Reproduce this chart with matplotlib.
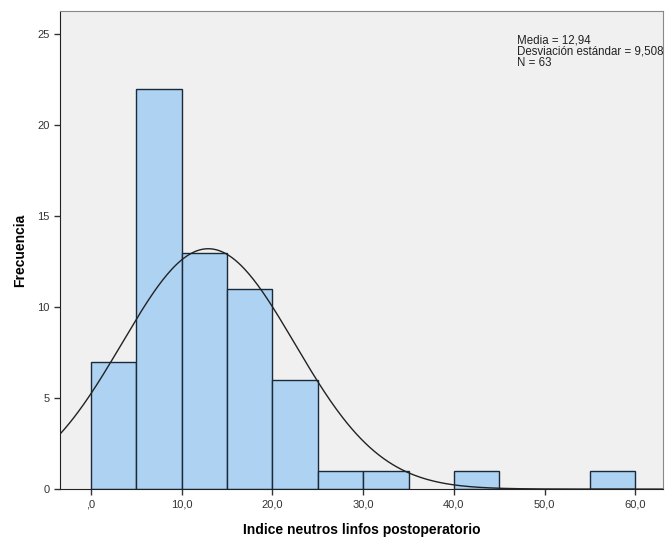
import numpy as np
import matplotlib
matplotlib.use("Agg")
import matplotlib.pyplot as plt

# datos del histograma (intervalos de 5)
bordes = [0, 5, 10, 15, 20, 25, 30, 35, 40, 45, 50, 55, 60]
frecuencias = [7, 22, 13, 11, 6, 1, 1, 0, 1, 0, 0, 1]
media = 12.94
desviacion = 9.508
n = 63
xticks = [0, 10, 20, 30, 40, 50, 60]
xtick_labels = [",0", "10,0", "20,0", "30,0", "40,0", "50,0", "60,0"]
yticks = [0, 5, 10, 15, 20, 25]

plt.rcParams['font.family'] = ['Liberation Sans', 'DejaVu Sans']

fig = plt.figure(figsize=(6.66, 5.41), dpi=100)
ax = fig.add_axes([0.09, 0.096, 0.905, 0.884])
ax.set_facecolor('#f0f0f0')

ancho = np.diff(bordes)
for i in range(len(frecuencias)):
    if frecuencias[i] > 0:
        ax.bar(bordes[i], frecuencias[i], width=ancho[i], align='edge',
               color='#add2f2', edgecolor='#1a2a3a', linewidth=1.0, zorder=2)

# curva normal
x = np.linspace(-3.4, 63, 400)
y = n * 5 / (desviacion * np.sqrt(2 * np.pi)) * np.exp(-0.5 * ((x - media) / desviacion) ** 2)
ax.plot(x, y, color='#222222', linewidth=1.0, zorder=3)

ax.set_xlim(-3.4, 63)
ax.set_ylim(0, 26.3)
ax.set_xticks(xticks)
ax.set_xticklabels(xtick_labels)
ax.set_yticks(yticks)
ax.tick_params(axis='both', labelsize=8, length=4, width=1, color='#333333', labelcolor='#333333')
for s in ['top', 'right']:
    ax.spines[s].set_color('#888888')
for s in ['left', 'bottom']:
    ax.spines[s].set_color('#222222')

ax.set_xlabel('Indice neutros linfos postoperatorio', fontsize=10, fontweight='bold', labelpad=10)
ax.set_ylabel('Frecuencia', fontsize=10, fontweight='bold', labelpad=7)

ax.text(0.758, 0.95, 'Media = 12,94\nDesviación estándar = 9,508\nN = 63',
        transform=ax.transAxes, fontsize=8.3, va='top', ha='left', linespacing=0.9, color='#222222')

fig.savefig('out.png', dpi=100)
